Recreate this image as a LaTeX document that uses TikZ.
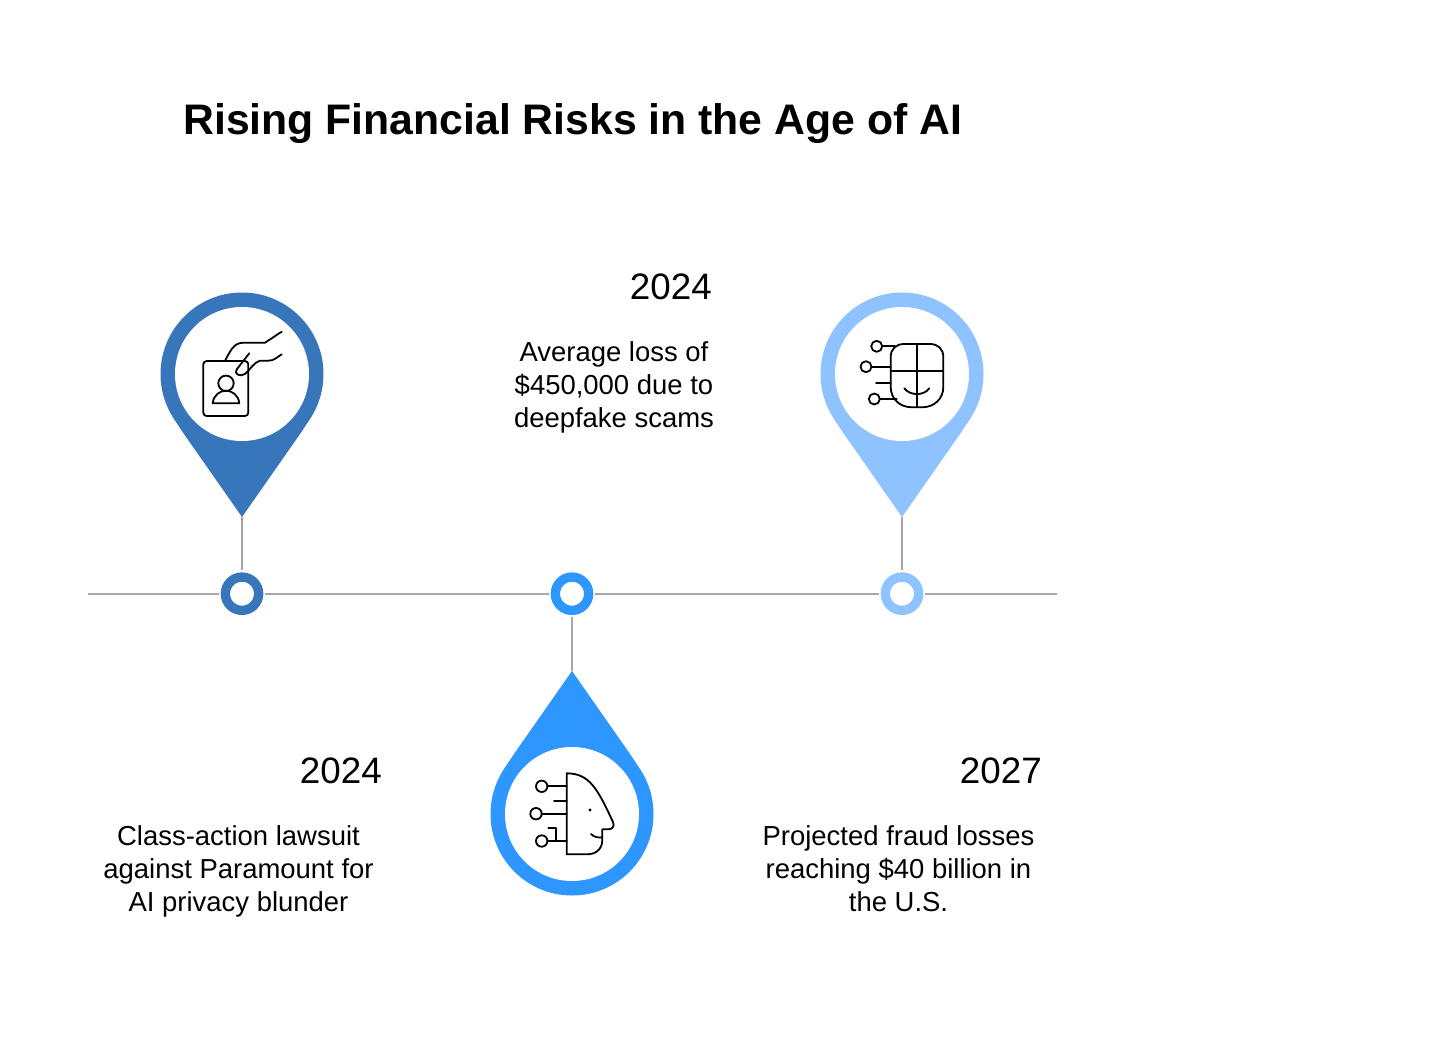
\documentclass[tikz,border=0pt]{standalone}
\usepackage{fontspec}
\setmainfont{Liberation Sans}
\usepackage{xcolor}
\definecolor{pindark}{HTML}{3776BB}
\definecolor{pinmid}{HTML}{2E96FF}
\definecolor{pinlight}{HTML}{8EC3FF}
\definecolor{rulegray}{HTML}{A6A6A6}
\tikzset{
  pics/pin/.style={code={
    \fill[#1] (0,0) circle [radius=81.5];
    \fill[#1] (0,143) -- (-59,58.6) .. controls (-64,51) and (-68,45) .. (-72.7,36)
      -- (72.7,36) .. controls (68,45) and (64,51) .. (59,58.6) -- cycle;
    \coordinate (-tip) at (0,143);
    \node[disc] (-disc) at (0,0) {};
  }}
}

\begin{document}
\begin{tikzpicture} [x=.75pt,y=-.75pt]
  \tikzstyle{disc}=[circle,fill=white,inner sep=0pt,minimum size=100.5pt]
  \tikzstyle{ring}=[circle,fill=white,inner sep=0pt,minimum size=25pt,line width=7pt,outer sep=5pt]
  \tikzstyle{axis}=[rulegray,line width=1.3pt]
  \tikzstyle{stem}=[rulegray,line width=1pt]
  \tikzstyle{glyph}=[black,line width=1.35pt,line cap=round,line join=round]
  \tikzstyle{yearlabel}=[anchor=east,inner sep=0pt,font=\fontsize{27.6}{33}\selectfont]
  \tikzstyle{bodylabel}=[align=center,inner sep=0pt,font=\fontsize{20.6}{24.75}\selectfont]

  \useasboundingbox (0,0) rectangle (1430,1056);

  \node[anchor=west,inner sep=0pt,font=\bfseries\fontsize{32.05}{40}\selectfont] (title) at (183,124)
    {Rising Financial Risks in the Age of AI};

  \pic (pinA) at (242,374) {pin=pindark};
  \pic[rotate=180] (pinB) at (572,814) {pin=pinmid};
  \pic (pinC) at (902,374) {pin=pinlight};

  \coordinate (axisL) at (88,593.7);
  \coordinate (axisR) at (1057,593.7);
  \node[ring,draw=pindark]  (dotA) at (242,593.7) {};
  \node[ring,draw=pinmid]   (dotB) at (572,593.7) {};
  \node[ring,draw=pinlight] (dotC) at (902,593.7) {};

  \draw[axis] (axisL) -- (dotA);
  \draw[axis] (dotA) -- (dotB);
  \draw[axis] (dotB) -- (dotC);
  \draw[axis] (dotC) -- (axisR);
  \draw[stem] (pinA-tip) -- (dotA);
  \draw[stem] (pinB-tip) -- (dotB);
  \draw[stem] (pinC-tip) -- (dotC);

  \node[yearlabel] (yearA) at (382,771) {2024};
  \node[yearlabel] (yearB) at (712,287) {2024};
  \node[yearlabel] (yearC) at (1042,771) {2027};

  \node[bodylabel] (textA) at (238.5,871.5) {Class-action lawsuit\\against Paramount for\\AI privacy blunder};
  \node[bodylabel] (textB) at (614,387.5) {Average loss of\\\$450,000 due to\\deepfake scams};
  \node[bodylabel] (textC) at (898.5,868.5) {Projected fraud losses\\reaching \$40 billion in\\the U.S.};

  % id card and hand
  \draw[glyph,rounded corners=2.5pt] (203.3,361) rectangle (248.3,416);
  \draw[glyph] (226,383.3) circle [radius=7.7];
  \draw[glyph] (212.7,403.3) .. controls (213.5,395) and (220,390.7) .. (226,390.7)
    .. controls (232,390.7) and (238.5,395) .. (239.3,403.3) -- cycle;
  \draw[glyph] (225,360.7) .. controls (230,352) and (233,343) .. (243,342.7)
    -- (265,342.7) -- (281.7,331.7);
  \draw[glyph] (281.7,354.3) .. controls (276,358) and (274,360.7) .. (268,360.7)
    -- (260,360.7) .. controls (254,362) and (250,370) .. (245,374)
    .. controls (240,377.5) and (233,373.5) .. (237,369) -- (249.3,353.3);

  % shield with circuit
  \draw[glyph] (890.7,357) .. controls (890.7,349) and (896,344) .. (904,344)
    -- (930,344) .. controls (938,344) and (943.3,349) .. (943.3,357)
    -- (943.3,387) .. controls (943.3,399) and (934,407.3) .. (922,407.3)
    -- (912,407.3) .. controls (900,407.3) and (890.7,399) .. (890.7,387) -- cycle;
  \draw[glyph] (917,344) -- (917,407.3);
  \draw[glyph] (890.7,371) -- (943.3,371);
  \draw[glyph] (904.3,388.3) .. controls (910,396) and (924,396) .. (929.3,388.3);
  \draw[glyph] (876.7,346.3) circle [radius=5.5];
  \draw[glyph] (882.2,346.3) -- (895,346.3);
  \draw[glyph] (866,366.7) circle [radius=5.5];
  \draw[glyph] (871.5,366.7) -- (890.7,366.7);
  \draw[glyph] (876,382.7) -- (890.7,382.7);
  \draw[glyph] (874.3,399) circle [radius=5.5];
  \draw[glyph] (879.8,399) -- (896.7,399);

  % head with circuit
  \draw[glyph] (566.7,773.3) .. controls (590,773.3) and (598,790) .. (613,822)
    .. controls (615,827) and (612,829.3) .. (608,829.3) -- (602.3,829.3) -- (602.3,840)
    .. controls (602.3,849) and (596,854.3) .. (587,854.3) -- (566.7,854.3) -- cycle;
  \fill (590,810) circle [radius=1.6];
  \draw[glyph] (591,834) .. controls (594,837) and (598,838) .. (602.3,837.3);
  \draw[glyph] (541.7,786.3) circle [radius=5.7];
  \draw[glyph] (547.4,786.3) -- (566.7,786.3);
  \draw[glyph] (554,801.3) -- (566.7,801.3);
  \draw[glyph] (536,813.7) circle [radius=5.7];
  \draw[glyph] (541.7,813.7) -- (566.7,813.7);
  \draw[glyph] (541.7,841) circle [radius=5.7];
  \draw[glyph] (547.4,841) -- (566.7,841);
  \draw[glyph] (548.3,828) -- (556,828) -- (556,841);
\end{tikzpicture}
\end{document}
